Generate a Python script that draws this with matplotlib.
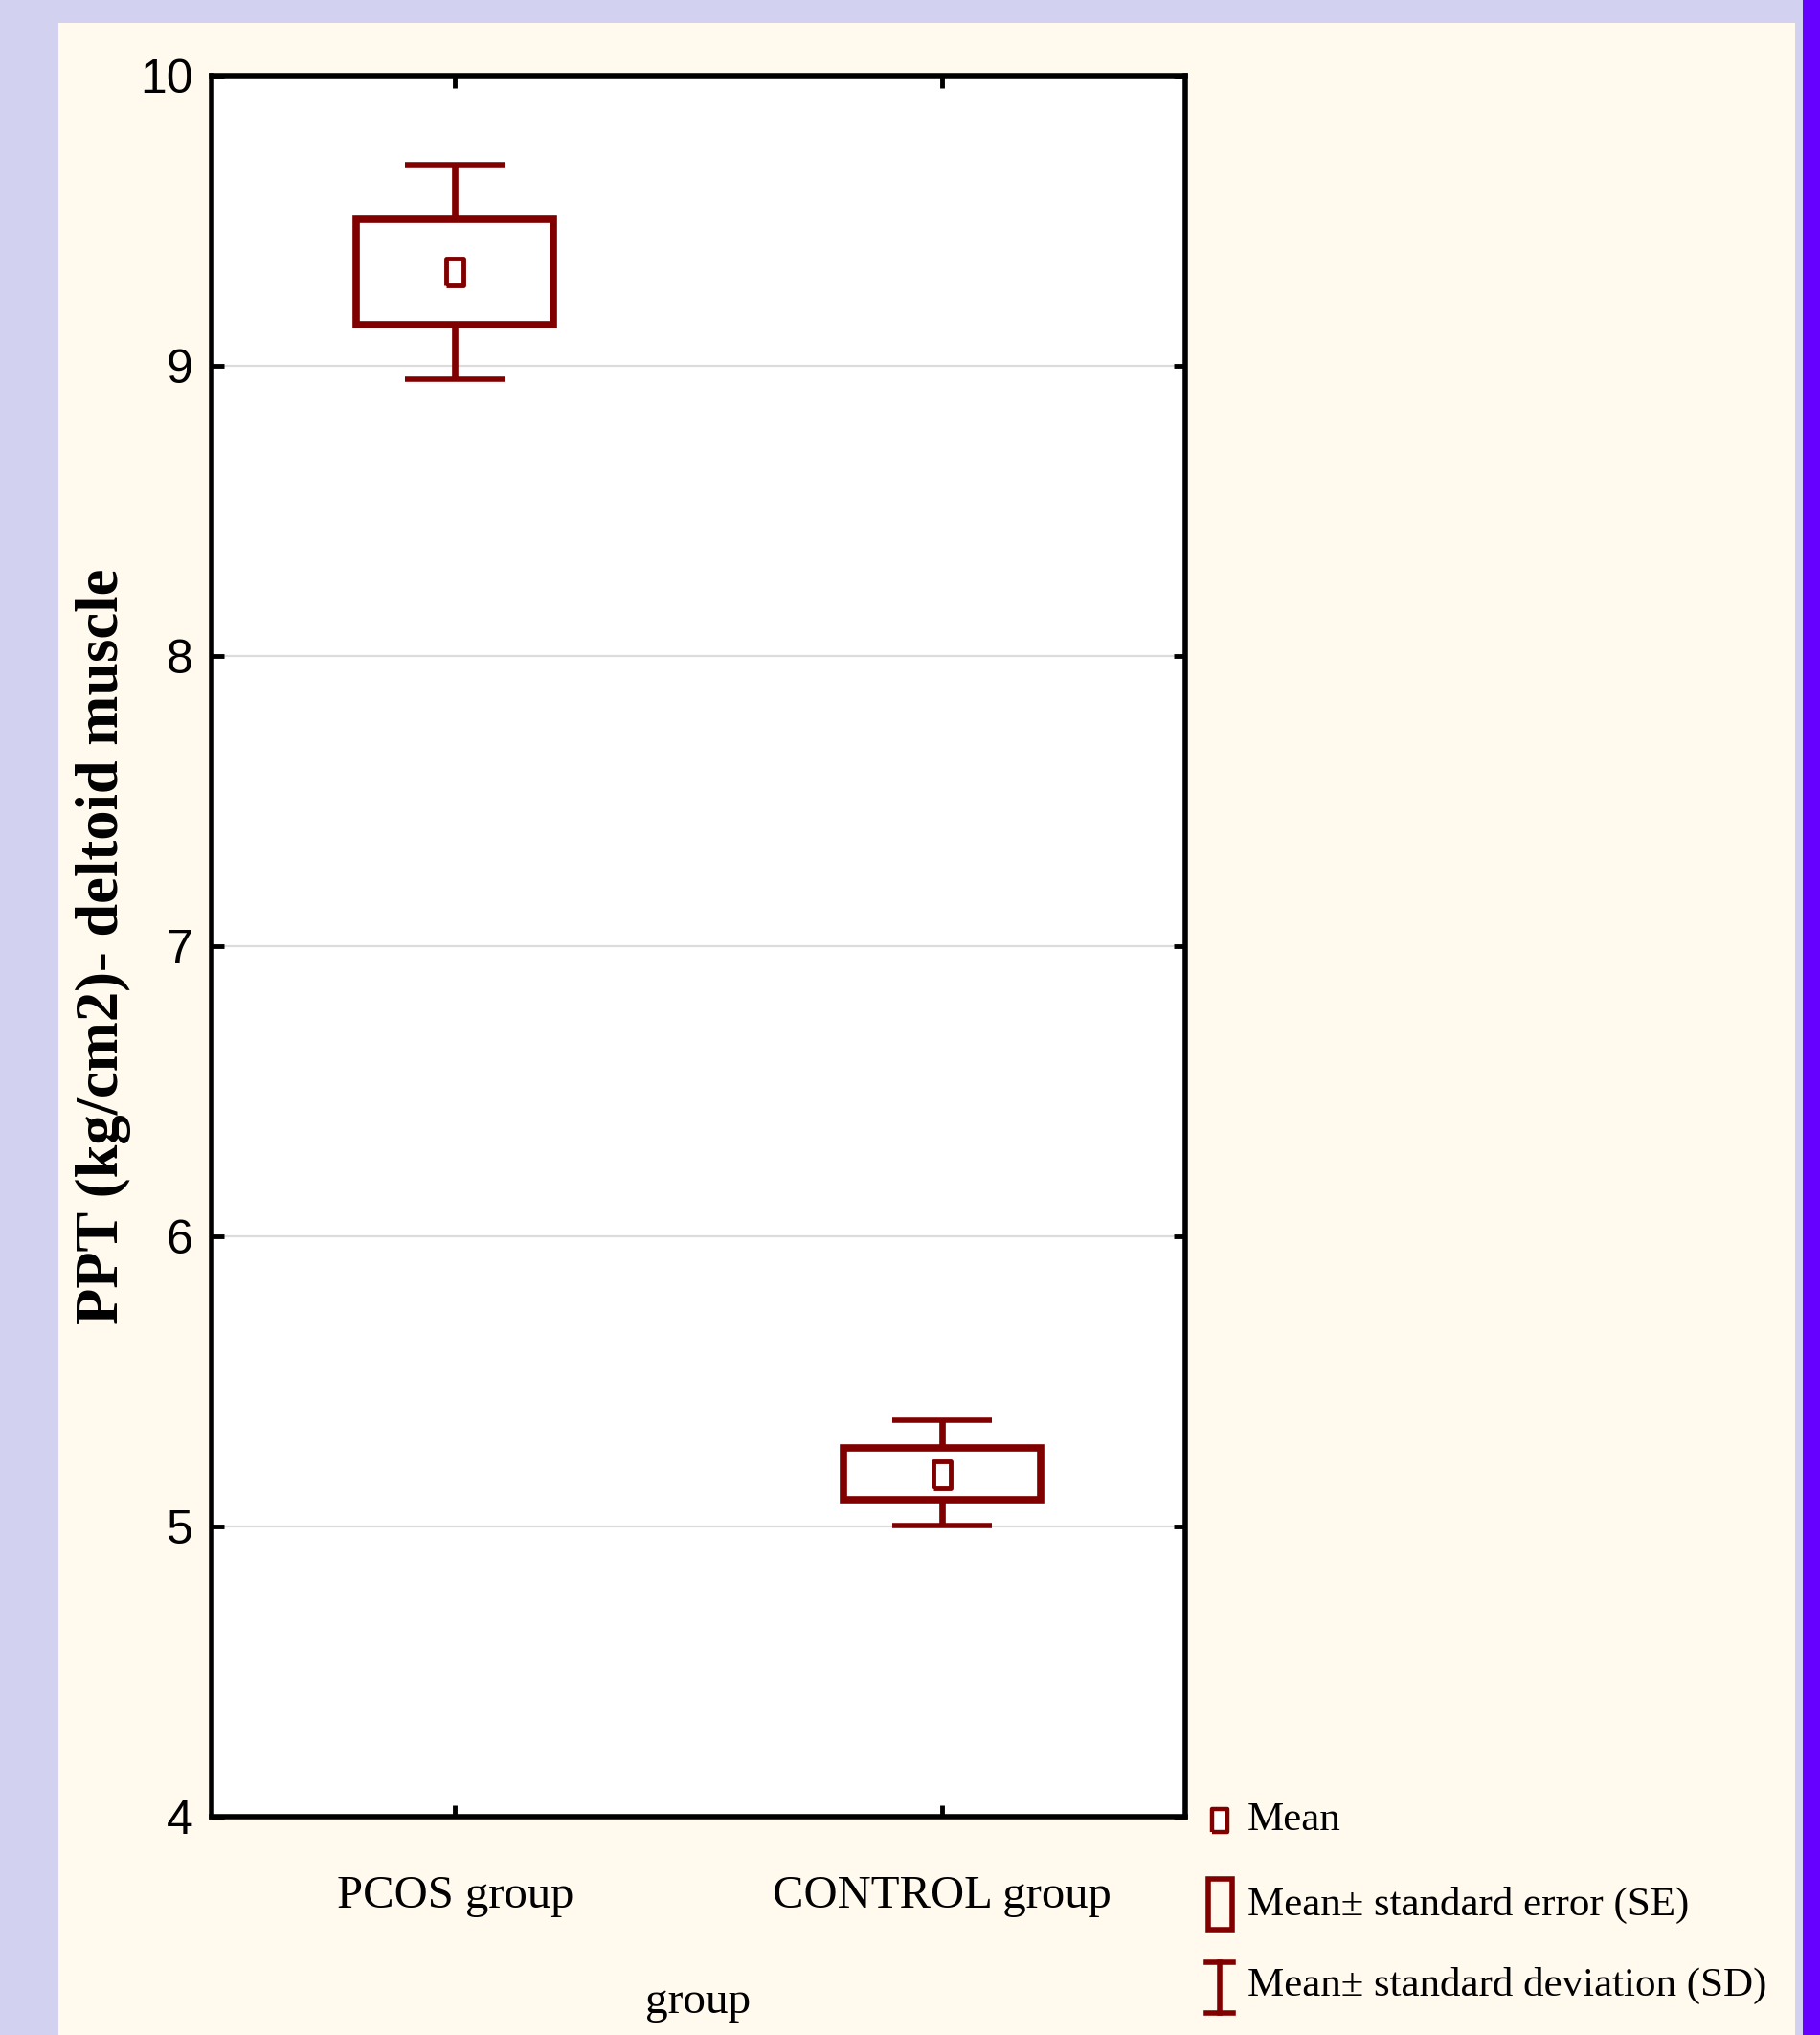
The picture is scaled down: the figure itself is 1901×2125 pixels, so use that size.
import numpy as np
import matplotlib.pyplot as plt
from matplotlib.patches import Rectangle
from matplotlib.lines import Line2D
from matplotlib.path import Path

# Datos
grupos = ["PCOS group", "CONTROL group"]
media = [9.323, 5.178]
se_bajo = [9.142, 5.092]
se_alto = [9.505, 5.271]
sd_bajo = [8.954, 5.003]
sd_alto = [9.693, 5.366]
yticks = [4, 5, 6, 7, 8, 9, 10]

rojo = "#800000"
W, H = 1901, 2125
fig = plt.figure(figsize=(W / 100, H / 100), dpi=100)
fig.patch.set_facecolor("#D2D2F0")

# paneles de fondo
fig.add_artist(Rectangle((61 / W, 0), (1875 - 61) / W, 1 - 24 / H,
                         transform=fig.transFigure, facecolor="#FFF9EE",
                         edgecolor="none", zorder=-10))
fig.add_artist(Rectangle((1883 / W, 0), 1 - 1883 / W, 1,
                         transform=fig.transFigure, facecolor="#6600FF",
                         edgecolor="none", zorder=-10))

ax = fig.add_axes([221 / W, 1 - 1897 / H, (1238 - 221) / W, (1897 - 79) / H])
ax.set_facecolor("white")

x = np.arange(len(grupos))
media = np.array(media)
err = [media - np.array(sd_bajo), np.array(sd_alto) - media]

# barras de error (SD)
ax.errorbar(x, media, yerr=err, fmt="none", ecolor=rojo, elinewidth=4.8,
            capsize=37.5, capthick=4, zorder=3)
# caja (SE)
ax.bar(x, np.array(se_alto) - np.array(se_bajo), bottom=se_bajo, width=0.405,
       facecolor="white", edgecolor=rojo, linewidth=5.5, zorder=4)
# media
rect = Path([(-0.65, -1), (0.65, -1), (0.65, 1), (-0.65, 1), (-0.65, -1)])
ax.plot(x, media, linestyle="none", marker=rect, markersize=20,
        markerfacecolor="white", markeredgecolor=rojo, markeredgewidth=3.5,
        zorder=5)

ax.set_xlim(-0.5, 1.5)
ax.set_ylim(4, 10)
ax.set_yticks(yticks)
ax.set_xticks(x)
ax.set_xticklabels(grupos, family=["Liberation Serif", "DejaVu Serif"], fontsize=35)
for lab in ax.get_yticklabels():
    lab.set_family(["Liberation Sans Narrow", "Liberation Sans", "DejaVu Sans"])
    lab.set_fontsize(36)
ax.grid(axis="y", color="#DCDCDC", linewidth=1.6, zorder=0)
ax.set_axisbelow(True)
ax.tick_params(axis="both", direction="in", length=9, width=3.5,
               top=True, right=True)
ax.tick_params(axis="x", pad=44)
ax.tick_params(axis="y", pad=14)
for s in ax.spines.values():
    s.set_linewidth(4)

ax.set_ylabel("PPT (kg/cm2)- deltoid muscle", family=["Liberation Serif", "DejaVu Serif"],
              fontsize=45, fontweight="bold", va="center")
ax.yaxis.set_label_coords(-0.111, 0.5)
ax.set_xlabel("group", family=["Liberation Serif", "DejaVu Serif"], fontsize=34, va="center")
ax.xaxis.set_label_coords(0.5, -0.1067)

# leyenda dibujada a mano
def fx(px):
    return px / W

def fy(py):
    return 1 - py / H

fuente = dict(family=["Liberation Serif", "DejaVu Serif"], fontsize=31, va="center")
fig.add_artist(Line2D([fx(1274)], [fy(1901)], marker=rect, markersize=17,
                      markerfacecolor="white", markeredgecolor=rojo,
                      markeredgewidth=3.2, transform=fig.transFigure))
fig.text(fx(1303), fy(1901), "Mean", **fuente)
fig.add_artist(Rectangle((fx(1262), fy(2015)), fx(1287) - fx(1262), fy(1962) - fy(2015),
                         transform=fig.transFigure, facecolor="none",
                         edgecolor=rojo, linewidth=4))
fig.text(fx(1303), fy(1989), "Mean\u00b1 standard error (SE)", **fuente)
for xs, ys in [([1260, 1288], [2049, 2049]), ([1274, 1274], [2049, 2102]),
               ([1260, 1288], [2102, 2102])]:
    fig.add_artist(Line2D([fx(v) for v in xs], [fy(v) for v in ys], color=rojo,
                          linewidth=4, transform=fig.transFigure))
fig.text(fx(1303), fy(2073), "Mean\u00b1 standard deviation (SD)", **fuente)

plt.savefig("out.png", dpi=100, facecolor=fig.get_facecolor())
